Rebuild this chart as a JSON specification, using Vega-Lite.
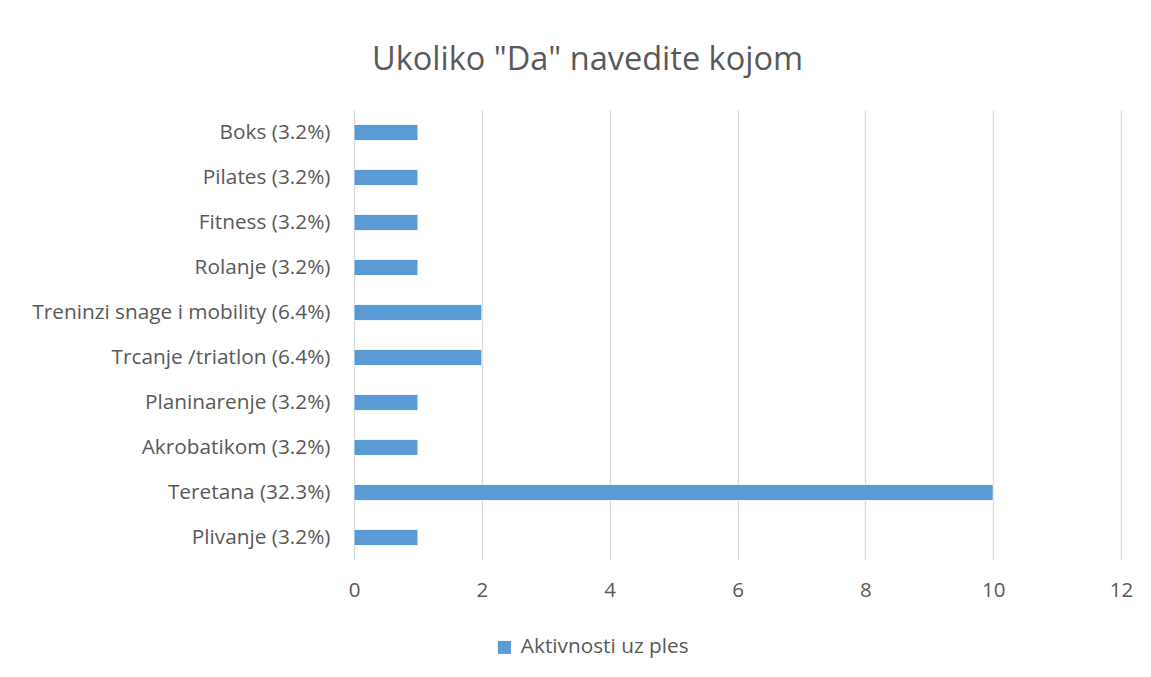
{
  "$schema": "https://vega.github.io/schema/vega-lite/v6.json",
  "width": 767,
  "height": 450,
  "autosize": {"type": "none"},
  "padding": {"left": 354, "top": 110, "right": 30, "bottom": 117},
  "background": "white",
  "title": {
    "text": "Ukoliko \"Da\" navedite kojom",
    "font": "Open Sans",
    "fontSize": 32.5,
    "fontWeight": "normal",
    "color": "#595959",
    "anchor": "middle",
    "frame": "group",
    "dx": -150,
    "offset": 34
  },
  "data": {
    "values": [
      {"kategorija": "Boks (3.2%)", "vrijednost": 1},
      {"kategorija": "Pilates (3.2%)", "vrijednost": 1},
      {"kategorija": "Fitness (3.2%)", "vrijednost": 1},
      {"kategorija": "Rolanje (3.2%)", "vrijednost": 1},
      {"kategorija": "Treninzi snage i mobility (6.4%)", "vrijednost": 2},
      {"kategorija": "Trcanje /triatlon (6.4%)", "vrijednost": 2},
      {"kategorija": "Planinarenje (3.2%)", "vrijednost": 1},
      {"kategorija": "Akrobatikom (3.2%)", "vrijednost": 1},
      {"kategorija": "Teretana (32.3%)", "vrijednost": 10},
      {"kategorija": "Plivanje (3.2%)", "vrijednost": 1}
    ]
  },
  "mark": {"type": "bar", "stroke": "white", "strokeWidth": 0.8},
  "encoding": {
    "y": {
      "field": "kategorija",
      "type": "nominal",
      "sort": null,
      "scale": {"paddingInner": 0.645, "paddingOuter": 0.3225},
      "axis": {
        "title": null,
        "domain": false,
        "ticks": false,
        "grid": false,
        "labelFont": "Open Sans",
        "labelFontSize": 20.8,
        "labelColor": "#595959",
        "labelPadding": 24,
        "labelLimit": 400
      }
    },
    "x": {
      "field": "vrijednost",
      "type": "quantitative",
      "scale": {"domain": [0, 12], "nice": false},
      "axis": {
        "title": null,
        "values": [0, 2, 4, 6, 8, 10, 12],
        "domain": false,
        "ticks": false,
        "grid": true,
        "gridColor": "#d9d9d9",
        "gridWidth": 1.3,
        "labelFlush": false,
        "labelFont": "Open Sans",
        "labelFontSize": 20.5,
        "labelColor": "#595959",
        "labelPadding": 20
      }
    },
    "color": {
      "datum": "Aktivnosti uz ples",
      "type": "nominal",
      "scale": {"range": ["#5b9bd5"]},
      "legend": {
        "title": null,
        "orient": "none",
        "legendX": 140,
        "legendY": 527,
        "symbolType": "square",
        "symbolSize": 170,
        "symbolStrokeWidth": 0,
        "labelFont": "Open Sans",
        "labelFontSize": 20.8,
        "labelColor": "#595959",
        "labelOffset": 6,
        "labelLimit": 400
      }
    }
  },
  "config": {
    "view": {"stroke": null}
  }
}
